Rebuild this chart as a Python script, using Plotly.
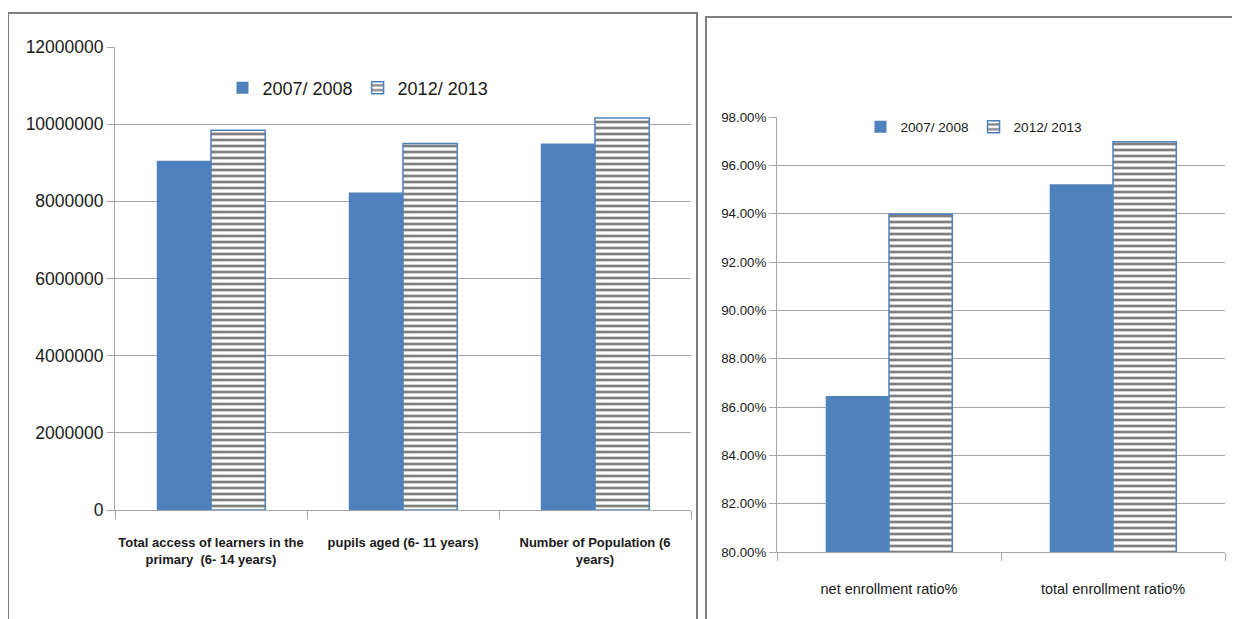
import plotly.graph_objects as go

W, H = 1240, 619
OFF = 8  # page body margin offset

# ---- data ----
left_categories = ["Total access of learners in the<br>primary  (6- 14 years)",
                   "pupils aged (6- 11 years)",
                   "Number of Population (6<br>years)"]
left_2007 = [9050000, 8230000, 9500000]
left_2012 = [9840000, 9500000, 10160000]

right_categories = ["net enrollment ratio%", "total enrollment ratio%"]
right_2007 = [0.8646, 0.9522]
right_2012 = [0.9398, 0.9698]

series_names = ["2007/ 2008", "2012/ 2013"]

BLUE = "#4F81BD"
FONT = "Liberation Sans, Arial, sans-serif"
GRID = "#A6A6A6"
TXT = "#1a1a1a"

def px_x(p):
    return (p - OFF) / W

def px_y(p):
    return 1 - (p - OFF) / H

fig = go.Figure()

hatch = dict(shape="-", fgcolor="black", bgcolor="white", size=6, solidity=0.45)

fig.add_trace(go.Bar(x=left_categories, y=left_2007, name=series_names[0],
                     marker=dict(color=BLUE, line=dict(width=0)),
                     xaxis="x", yaxis="y", legend="legend"))
fig.add_trace(go.Bar(x=left_categories, y=left_2012, name=series_names[1],
                     marker=dict(color="white", pattern=hatch, line=dict(color=BLUE, width=1.5)),
                     xaxis="x", yaxis="y", legend="legend"))
fig.add_trace(go.Bar(x=right_categories, y=right_2007, name=series_names[0],
                     marker=dict(color=BLUE, line=dict(width=0)),
                     xaxis="x2", yaxis="y2", legend="legend2"))
fig.add_trace(go.Bar(x=right_categories, y=right_2012, name=series_names[1],
                     marker=dict(color="white", pattern=hatch, line=dict(color=BLUE, width=1.5)),
                     xaxis="x2", yaxis="y2", legend="legend2"))

axis_common_y = dict(showgrid=True, gridcolor=GRID, gridwidth=1, showline=True,
                     linecolor=GRID, linewidth=1, ticks="outside", ticklen=7,
                     tickcolor=GRID, zeroline=False, automargin=False)
axis_common_x = dict(showline=True, linecolor=GRID, linewidth=1, ticks="outside",
                     tickson="boundaries", ticklen=8, tickcolor=GRID, showgrid=False,
                     tickangle=0, automargin=False)

fig.update_layout(
    width=W, height=H,
    margin=dict(l=0, r=0, t=0, b=0, autoexpand=False),
    paper_bgcolor="white", plot_bgcolor="white",
    barmode="group", bargap=0.435, bargroupgap=0,
    font=dict(family=FONT, color=TXT),
    xaxis=dict(domain=[px_x(115), px_x(691)], anchor="y", ticklabelstandoff=20,
               tickfont=dict(size=13, family=FONT, weight="bold", color=TXT), **axis_common_x),
    yaxis=dict(domain=[px_y(510), px_y(47)], anchor="x", range=[0, 12000000],
               dtick=2000000, tickformat="d", tickfont=dict(size=17.5, color=TXT), **axis_common_y),
    xaxis2=dict(domain=[px_x(777), px_x(1225)], anchor="y2", ticklabelstandoff=24,
                tickfont=dict(size=14.5, color=TXT), **axis_common_x),
    yaxis2=dict(domain=[px_y(552), px_y(117)], anchor="x2", range=[0.80, 0.98],
                dtick=0.02, tickformat=".2%", tickfont=dict(size=13.3, color=TXT), **axis_common_y),
    legend=dict(orientation="h", x=px_x(358), y=px_y(88), xanchor="center", yanchor="middle",
                font=dict(size=18, color=TXT), bgcolor="rgba(0,0,0,0)", itemwidth=30,
                tracegroupgap=0, itemclick=False),
    legend2=dict(orientation="h", x=px_x(974), y=px_y(127), xanchor="center", yanchor="middle",
                 font=dict(size=13.6, color=TXT), bgcolor="rgba(0,0,0,0)", itemwidth=30,
                 tracegroupgap=0, itemclick=False),
    shapes=[
        dict(type="rect", xref="paper", yref="paper", x0=px_x(8), x1=px_x(697),
             y0=-0.05, y1=px_y(13), line=dict(color="#7F7F7F", width=2)),
        dict(type="rect", xref="paper", yref="paper", x0=px_x(706), x1=1.05,
             y0=-0.05, y1=px_y(17), line=dict(color="#7F7F7F", width=2)),
    ],
)

fig.write_html("out.html")
